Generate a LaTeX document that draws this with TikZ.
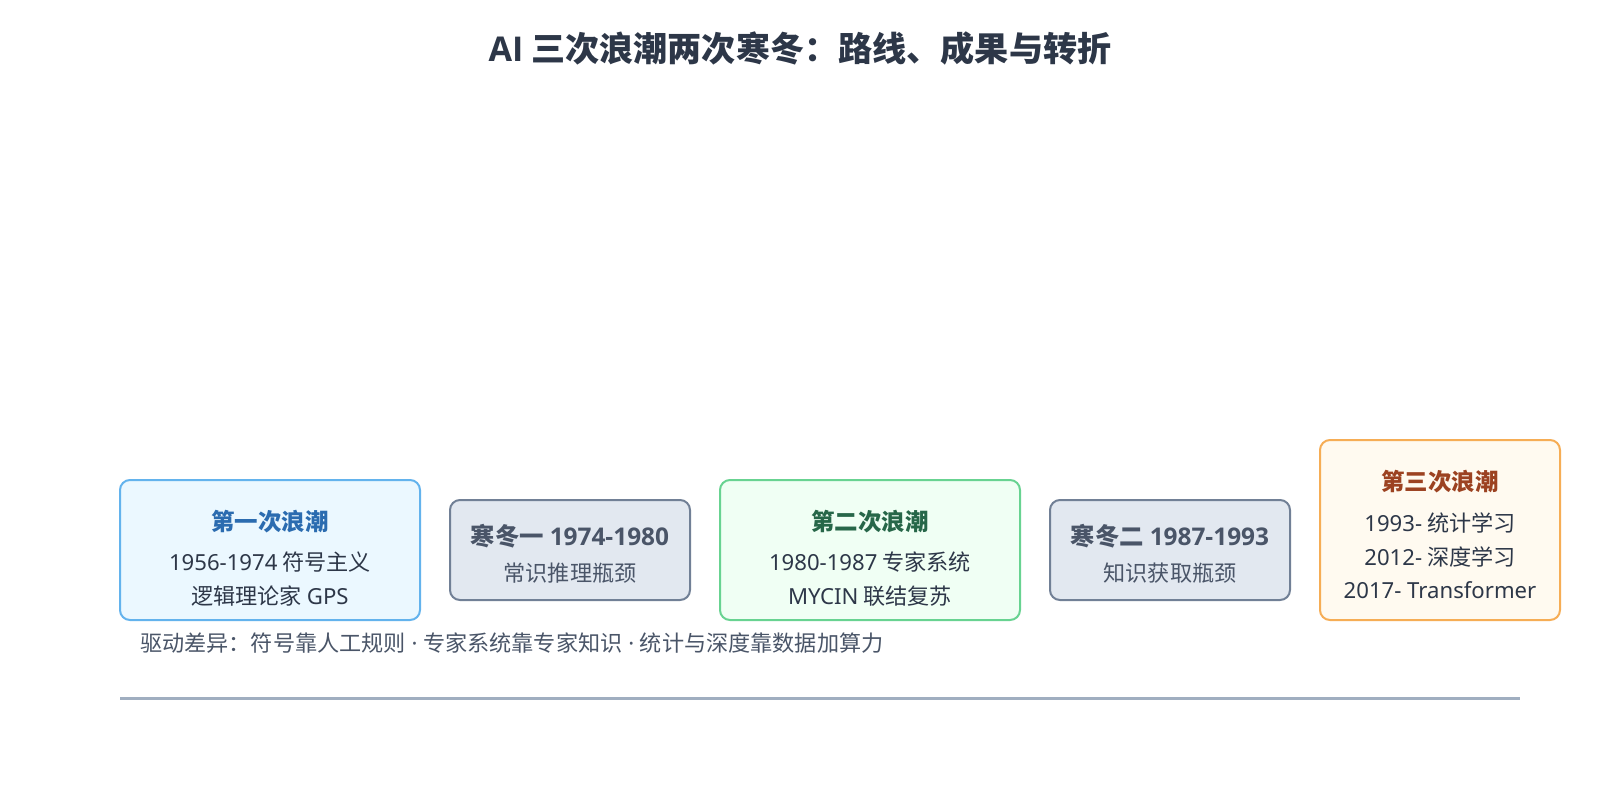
\documentclass[tikz,border=0pt]{standalone}
\usepackage{fontspec}
\setmainfont{Noto Sans CJK SC}
\newfontfamily\lt{Noto Sans}
\newfontfamily\ltb{Open Sans}
\definecolor{titlec}{HTML}{2D3748}
\definecolor{bodyc}{HTML}{2D3748}
\definecolor{greyc}{HTML}{4A5568}
\definecolor{b1fill}{HTML}{EBF8FF}
\definecolor{b1line}{HTML}{63B3ED}
\definecolor{b1text}{HTML}{2B6CB0}
\definecolor{b2fill}{HTML}{F0FFF4}
\definecolor{b2line}{HTML}{68D391}
\definecolor{b2text}{HTML}{276749}
\definecolor{b3fill}{HTML}{FFFAF0}
\definecolor{b3line}{HTML}{F6AD55}
\definecolor{b3text}{HTML}{9C4221}
\definecolor{wfill}{HTML}{E2E8F0}
\definecolor{wline}{HTML}{718096}
\definecolor{axisc}{HTML}{A0AEC0}
\newcommand{\pxfont}[1]{\fontsize{#1}{#1}\selectfont}
\begin{document}
\begin{tikzpicture}[x=0.75pt,y=-0.75pt,
  card/.style={draw, line width=1.5pt, rounded corners=7.5pt, inner sep=0pt},
  wave/.style={card, minimum width=225pt, minimum height=105pt},
  winter/.style={card, draw=wline, fill=wfill, minimum width=180pt, minimum height=75pt},
  hd/.style={font=\pxfont{17.6pt}\bfseries, inner sep=0pt, anchor=center},
  whd/.style={font=\pxfont{18.3pt}\bfseries, text=greyc, inner sep=0pt, anchor=center},
  bd/.style={font=\pxfont{16.6pt}, text=bodyc, inner sep=0pt, anchor=center},
  wbd/.style={font=\pxfont{16.6pt}, text=greyc, inner sep=0pt, anchor=center},
  axisline/.style={draw=axisc, line width=2.25pt}]
\useasboundingbox (0,0) rectangle (1600,800);
\fill[white] (0,0) rectangle (1600,800);

\node[font=\pxfont{25.6pt}\bfseries, text=titlec, inner sep=0pt] (title) at (800,48) {{\ltb AI} 三次浪潮两次寒冬：路线、成果与转折};

\node[wave, draw=b1line, fill=b1fill] (w1) at (270,550) {};
\node[winter] (c1) at (570,550) {};
\node[wave, draw=b2line, fill=b2fill] (w2) at (870,550) {};
\node[winter] (c2) at (1170,550) {};
\node[card, draw=b3line, fill=b3fill, minimum width=180pt, minimum height=135pt] (w3) at (1440,530) {};

\node[hd, text=b1text] (w1h) at (270,522) {第一次浪潮};
\node[bd] (w1a) at (270,562) {{\lt 1956-1974} 符号主义};
\node[bd] (w1b) at (270,596) {逻辑理论家 {\lt GPS}};

\node[whd] (c1h) at (570,536) {寒冬一 {\ltb 1974-1980}};
\node[wbd] (c1a) at (570,573) {常识推理瓶颈};

\node[hd, text=b2text] (w2h) at (870,522) {第二次浪潮};
\node[bd] (w2a) at (870,562) {{\lt 1980-1987} 专家系统};
\node[bd] (w2b) at (870,596) {{\lt MYCIN} 联结复苏};

\node[whd] (c2h) at (1170,536) {寒冬二 {\ltb 1987-1993}};
\node[wbd] (c2a) at (1170,573) {知识获取瓶颈};

\node[hd, text=b3text] (w3h) at (1440,482) {第三次浪潮};
\node[bd] (w3a) at (1440,523) {{\lt 1993-} 统计学习};
\node[bd] (w3b) at (1440,557) {{\lt 2012-} 深度学习};
\node[bd] (w3c) at (1440,590) {{\lt 2017- Transformer}};

\node[font=\pxfont{16.6pt}, text=greyc, inner sep=0pt, anchor=west] (note) at (140,643) {驱动差异：符号靠人工规则{\lt\ ·\ }专家系统靠专家知识{\lt\ ·\ }统计与深度靠数据加算力};

\coordinate (ax1) at (120,698);
\coordinate (ax2) at (1520,698);
\draw[axisline] (ax1) -- (ax2);
\end{tikzpicture}
\end{document}
